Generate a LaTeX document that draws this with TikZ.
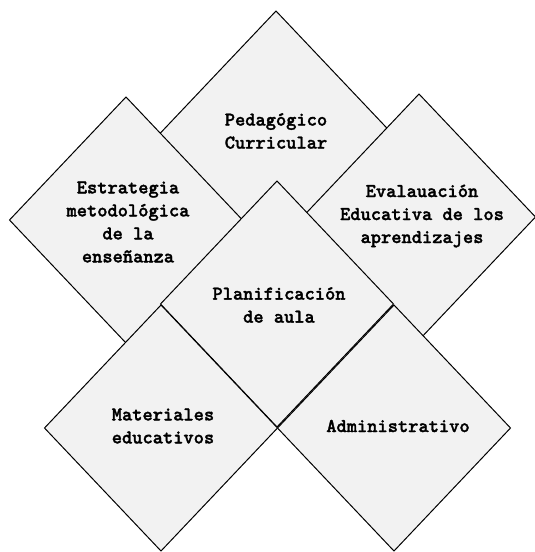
\documentclass[tikz,border=0pt]{standalone}
\usepackage{fontspec}
\newfontfamily\courfont[FakeBold=1.6]{lmmonolt10-bold.otf}
\usetikzlibrary{shapes.geometric}
\definecolor{boxfill}{HTML}{F2F2F2}
\tikzset{
  rombo/.style={shape=diamond, draw=black, line width=1pt, fill=boxfill,
    inner sep=0pt, outer sep=0pt, minimum width=233pt, minimum height=246pt},
  rotulo/.style={align=center, inner sep=0pt,
    font=\courfont\fontsize{19.5}{23}\selectfont}
}
\begin{document}
\begin{tikzpicture}[x=1pt,y=-1pt]
\useasboundingbox (0,0) rectangle (535,552);
\node[rombo] (ped) at (276,134) {};
\node[rotulo] (tped) at (276,131) {Pedagógico\\Curricular};
\node[rombo] (est) at (126,220) {};
\node[rotulo] (test) at (128,222) {Estrategia\\metodológica\\de la\\enseñanza};
\node[rombo] (eva) at (419,217) {};
\node[rotulo] (teva) at (422,216) {Evalauación\\Educativa de los\\aprendizajes};
\node[rombo] (pla) at (277,304) {};
\node[rotulo] (tpla) at (279,305) {Planificación\\de aula};
\node[rombo] (mat) at (161,428) {};
\node[rotulo] (tmat) at (163,426) {Materiales\\educativos};
\node[rombo] (adm) at (394,428) {};
\node[rotulo] (tadm) at (398,426) {Administrativo};
\end{tikzpicture}
\end{document}
